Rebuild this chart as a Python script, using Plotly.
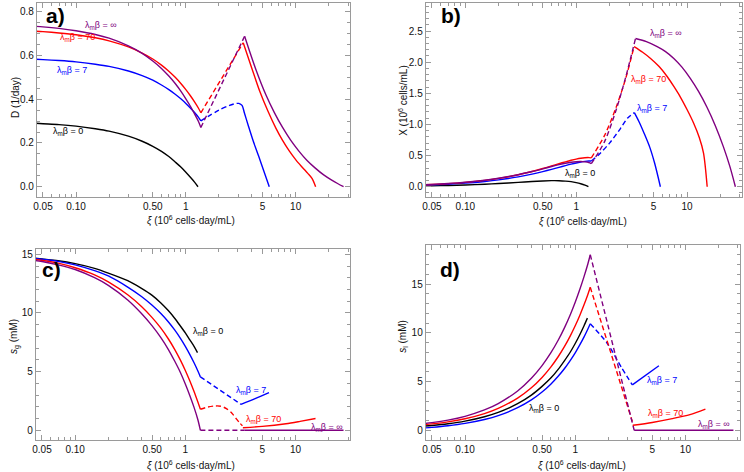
import plotly.graph_objects as go

# ---------------- data ----------------
xi_left = [0.04, 0.05, 0.07, 0.1, 0.15, 0.2, 0.3, 0.4, 0.5, 0.6, 0.7, 0.8, 0.9, 1.0, 1.1, 1.2, 1.3, 1.37]
xi_black = [0.04, 0.05, 0.07, 0.1, 0.15, 0.2, 0.3, 0.4, 0.5, 0.6, 0.7, 0.8, 0.9, 1.0, 1.1, 1.2, 1.29]

# panel a: D (1/day)
D_black = [0.291, 0.288, 0.284, 0.277, 0.265, 0.254, 0.231, 0.208, 0.185, 0.162, 0.138, 0.113, 0.090, 0.066, 0.043, 0.021, 0.0]
D_blue = [0.584, 0.581, 0.577, 0.571, 0.560, 0.550, 0.529, 0.508, 0.487, 0.465, 0.444, 0.423, 0.402, 0.381, 0.360, 0.339, 0.318, 0.301]
D_red = [0.712, 0.709, 0.703, 0.695, 0.681, 0.667, 0.639, 0.611, 0.584, 0.556, 0.528, 0.500, 0.472, 0.444, 0.416, 0.388, 0.360, 0.338]
D_purple = [0.734, 0.731, 0.724, 0.713, 0.696, 0.679, 0.644, 0.610, 0.575, 0.541, 0.506, 0.472, 0.437, 0.402, 0.368, 0.333, 0.299, 0.271]
xi_blue_mid_a = [1.37, 1.6, 2.0, 2.5, 2.9, 3.05]
D_blue_mid = [0.301, 0.322, 0.35, 0.372, 0.381, 0.381]
xi_red_mid_a = [1.37, 3.33]
D_red_mid = [0.338, 0.658]
xi_purple_mid_a = [1.37, 3.43]
D_purple_mid = [0.271, 0.688]
xi_blue_right_a = [3.05, 3.25, 3.41, 3.7, 4.1, 4.6, 5.1, 5.75]
D_blue_right = [0.381, 0.372, 0.338, 0.28, 0.21, 0.14, 0.075, 0.0]
xi_red_right = [3.33, 3.98, 4.69, 5.6, 6.62, 7.6, 8.71, 10.0, 11.48, 12.9, 14.09, 15.2]
D_red_right = [0.658, 0.543, 0.439, 0.345, 0.267, 0.212, 0.165, 0.124, 0.089, 0.061, 0.038, 0.0]
xi_purple_right = [3.43, 4.3, 5.38, 6.4, 7.6, 9.0, 10.7, 12.7, 15.1, 18.0, 21.3, 24.3, 27.3]
D_purple_right = [0.688, 0.542, 0.418, 0.339, 0.271, 0.213, 0.163, 0.120, 0.085, 0.054, 0.030, 0.0136, 0.0]

# panel b: X (10^6 cells/mL)
X_black = [0.0116, 0.0144, 0.0199, 0.0277, 0.0398, 0.0508, 0.0693, 0.0832, 0.0925, 0.0972, 0.0966, 0.0904, 0.081, 0.066, 0.0473, 0.0252, 0.0]
X_blue = [0.0234, 0.029, 0.0404, 0.0571, 0.084, 0.110, 0.1587, 0.2032, 0.2435, 0.279, 0.3108, 0.3384, 0.3618, 0.381, 0.396, 0.4068, 0.4134, 0.412]
X_red = [0.0285, 0.0355, 0.0492, 0.0695, 0.1022, 0.1334, 0.1917, 0.2444, 0.292, 0.3336, 0.3696, 0.400, 0.4248, 0.444, 0.4576, 0.4656, 0.468, 0.463]
X_purple = [0.0294, 0.0366, 0.0507, 0.0713, 0.1044, 0.1358, 0.1932, 0.244, 0.2875, 0.3246, 0.3542, 0.3776, 0.3933, 0.402, 0.4048, 0.3996, 0.3887, 0.371]
xi_blue_mid_b = [1.37, 1.6, 2.0, 2.5, 2.9, 3.35]
X_blue_mid = [0.412, 0.515, 0.70, 0.93, 1.10, 1.19]
xi_red_mid_b = [1.37, 1.8, 2.3, 2.8, 3.33]
X_red_mid = [0.463, 0.82, 1.28, 1.74, 2.25]
xi_purple_mid_b = [1.37, 1.8, 2.3, 2.8, 3.43]
X_purple_mid = [0.371, 0.72, 1.24, 1.76, 2.38]
xi_blue_right_b = [3.35, 3.7, 4.1, 4.6, 5.1, 5.75]
X_blue_right = [1.19, 1.04, 0.86, 0.64, 0.38, 0.0]
X_red_right = [2.25, 2.16, 2.06, 1.93, 1.77, 1.61, 1.44, 1.24, 1.02, 0.79, 0.54, 0.0]
X_purple_right = [2.38, 2.33, 2.25, 2.17, 2.06, 1.92, 1.74, 1.53, 1.28, 0.98, 0.64, 0.33, 0.0]

# panel c: s_g (mM)
Sg_black = [14.7, 14.6, 14.45, 14.2, 13.8, 13.4, 12.75, 12.1, 11.5, 10.85, 10.2, 9.55, 8.9, 8.3, 7.7, 7.15, 6.62]
Sg_blue = [14.68, 14.58, 14.4, 14.1, 13.6, 13.15, 12.2, 11.4, 10.65, 9.95, 9.25, 8.55, 7.85, 7.15, 6.45, 5.75, 5.05, 4.55]
Sg_red = [14.6, 14.48, 14.25, 13.85, 13.25, 12.65, 11.55, 10.55, 9.6, 8.7, 7.8, 6.9, 6.0, 5.1, 4.2, 3.3, 2.4, 1.79]
Sg_purple = [14.52, 14.38, 14.1, 13.7, 13.0, 12.35, 11.1, 9.95, 8.9, 7.9, 6.9, 5.9, 4.95, 3.95, 2.95, 1.95, 0.9, 0.0]
xi_blue_mid_c = [1.37, 3.2]
Sg_blue_mid = [4.55, 2.21]
xi_blue_right_c = [3.2, 4.3, 5.75]
Sg_blue_right = [2.21, 2.7, 3.21]
xi_red_mid_c = [1.37, 1.6, 1.85, 2.1, 2.36, 2.65, 2.9, 3.1, 3.3]
Sg_red_mid = [1.79, 1.98, 2.07, 2.05, 1.85, 1.45, 0.98, 0.65, 0.38]
xi_red_right_c = [3.33, 5.0, 8.2, 11.0, 15.2]
Sg_red_right = [0.22, 0.33, 0.56, 0.76, 1.0]
xi_purple_mid_c = [1.37, 3.43]
Sg_purple_mid = [0.0, 0.0]
xi_purple_right_c = [3.43, 27.3]
Sg_purple_right = [0.0, 0.0]

# panel d: s_l (mM)
Sl_black = [0.4, 0.49, 0.67, 0.94, 1.39, 1.83, 2.72, 3.6, 4.5, 5.35, 6.25, 7.15, 8.0, 8.9, 9.8, 10.7, 11.5]
Sl_blue = [0.22, 0.3, 0.46, 0.7, 1.1, 1.5, 2.31, 3.11, 3.92, 4.72, 5.53, 6.33, 7.14, 7.94, 8.75, 9.55, 10.36, 10.92]
Sl_red = [0.54, 0.65, 0.86, 1.18, 1.71, 2.24, 3.3, 4.36, 5.42, 6.48, 7.54, 8.6, 9.66, 10.72, 11.78, 12.84, 13.9, 14.66]
Sl_purple = [0.65, 0.78, 1.04, 1.43, 2.08, 2.73, 4.03, 5.33, 6.63, 7.93, 9.23, 10.53, 11.83, 13.13, 14.43, 15.73, 17.03, 18.0]
xi_blue_mid_d = [1.37, 1.93, 2.63, 3.3]
Sl_blue_mid = [10.92, 9.0, 6.44, 4.66]
xi_blue_right_d = [3.3, 5.75]
Sl_blue_right = [4.66, 6.61]
xi_red_mid_d = [1.37, 3.3]
Sl_red_mid = [14.66, 0.9]
xi_red_right_d = [3.33, 5.0, 7.6, 11.0, 15.2]
Sl_red_right = [0.51, 0.8, 1.19, 1.6, 2.16]
xi_purple_mid_d = [1.37, 3.43]
Sl_purple_mid = [18.0, 0.0]
xi_purple_right_d = [3.43, 27.3]
Sl_purple_right = [0.0, 0.0]

x_tickvals = [0.05, 0.1, 0.5, 1, 5, 10]
x_ticktext = ["0.05", "0.10", "0.50", "1", "5", "10"]
x_minor = [0.06, 0.07, 0.08, 0.09, 0.2, 0.3, 0.4, 0.6, 0.7, 0.8, 0.9, 2, 3, 4, 6, 7, 8, 9, 20, 30]

# ---------------- styling ----------------
BLACK, BLUE, RED, PURPLE = "#000000", "#0000ff", "#ff0000", "#800080"
W, H = 744, 472
LW = 1.4
DASH = "5px,3px"
FONT = "Liberation Sans, Arial, sans-serif"

fig = go.Figure()


def add(xs, ys, color, axis, dashed=False, smooth=True):
    fig.add_trace(go.Scatter(
        x=xs, y=ys, mode="lines", xaxis="x" + axis, yaxis="y" + axis,
        line=dict(color=color, width=LW, dash=DASH if dashed else "solid",
                  shape="spline" if smooth else "linear", smoothing=0.8),
        hoverinfo="skip", showlegend=False))


# panel a
add(xi_black, D_black, BLACK, "")
add(xi_left, D_blue, BLUE, "")
add(xi_left, D_red, RED, "")
add(xi_left, D_purple, PURPLE, "")
add(xi_blue_mid_a, D_blue_mid, BLUE, "", True)
add(xi_red_mid_a, D_red_mid, RED, "", True, False)
add(xi_purple_mid_a, D_purple_mid, PURPLE, "", True, False)
add(xi_blue_right_a, D_blue_right, BLUE, "")
add(xi_red_right, D_red_right, RED, "")
add(xi_purple_right, D_purple_right, PURPLE, "")

# panel b
add(xi_black, X_black, BLACK, "2")
add(xi_left, X_blue, BLUE, "2")
add(xi_left, X_red, RED, "2")
add(xi_left, X_purple, PURPLE, "2")
add(xi_blue_mid_b, X_blue_mid, BLUE, "2", True)
add(xi_red_mid_b, X_red_mid, RED, "2", True)
add(xi_purple_mid_b, X_purple_mid, PURPLE, "2", True)
add(xi_blue_right_b, X_blue_right, BLUE, "2")
add(xi_red_right, X_red_right, RED, "2")
add(xi_purple_right, X_purple_right, PURPLE, "2")

# panel c
add(xi_black, Sg_black, BLACK, "3")
add(xi_left, Sg_blue, BLUE, "3")
add(xi_left, Sg_red, RED, "3")
add(xi_left, Sg_purple, PURPLE, "3")
add(xi_blue_mid_c, Sg_blue_mid, BLUE, "3", True, False)
add(xi_red_mid_c, Sg_red_mid, RED, "3", True)
add(xi_purple_mid_c, Sg_purple_mid, PURPLE, "3", True, False)
add(xi_blue_right_c, Sg_blue_right, BLUE, "3")
add(xi_red_right_c, Sg_red_right, RED, "3")
add(xi_purple_right_c, Sg_purple_right, PURPLE, "3", False, False)

# panel d
add(xi_black, Sl_black, BLACK, "4")
add(xi_left, Sl_blue, BLUE, "4")
add(xi_left, Sl_red, RED, "4")
add(xi_left, Sl_purple, PURPLE, "4")
add(xi_blue_mid_d, Sl_blue_mid, BLUE, "4", True)
add(xi_red_mid_d, Sl_red_mid, RED, "4", True, False)
add(xi_purple_mid_d, Sl_purple_mid, PURPLE, "4", True, False)
add(xi_blue_right_d, Sl_blue_right, BLUE, "4", False, False)
add(xi_red_right_d, Sl_red_right, RED, "4")
add(xi_purple_right_d, Sl_purple_right, PURPLE, "4", False, False)


def px2x(px):
    return px / W


def py2y(py):
    return 1 - py / H


common = dict(showline=True, mirror="ticks", linecolor="#9a9a9a", linewidth=1,
              ticks="inside", ticklen=5, tickcolor="#9a9a9a", tickwidth=1,
              showgrid=False, zeroline=False,
              tickfont=dict(family=FONT, size=10, color="#111"))


def xaxis(domain, anchor):
    return dict(common, type="log", range=[-1.357, 1.496], domain=domain, anchor=anchor,
                tickmode="array", tickvals=x_tickvals, ticktext=x_ticktext,
                minor=dict(tickmode="array", tickvals=x_minor, ticks="inside",
                           ticklen=3, tickcolor="#9a9a9a"))


def yaxis(domain, anchor, rng, dtick, minor_dtick, fmt):
    return dict(common, range=rng, domain=domain, anchor=anchor, dtick=dtick, tick0=0,
                tickformat=fmt,
                minor=dict(dtick=minor_dtick, tick0=0, ticks="inside", ticklen=3,
                           tickcolor="#9a9a9a"))


dom_a_x = [px2x(33), px2x(348)]
dom_b_x = [px2x(424), px2x(742)]
dom_c_x = [px2x(32), px2x(348)]
dom_d_x = [px2x(424), px2x(740)]
dom_top_y = [py2y(197), py2y(3)]
dom_c_y = [py2y(440), py2y(249)]
dom_d_y = [py2y(440), py2y(245)]

fig.update_layout(
    width=W, height=H, margin=dict(l=0, r=0, t=0, b=0),
    paper_bgcolor="white", plot_bgcolor="white",
    xaxis=xaxis(dom_a_x, "y"),
    yaxis=yaxis(dom_top_y, "x", [-0.047, 0.84], 0.2, 0.05, ".1f"),
    xaxis2=xaxis(dom_b_x, "y2"),
    yaxis2=yaxis(dom_top_y, "x2", [-0.165, 2.95], 0.5, 0.1, ".1f"),
    xaxis3=xaxis(dom_c_x, "y3"),
    yaxis3=yaxis(dom_c_y, "x3", [-0.83, 15.45], 5, 1, "d"),
    xaxis4=xaxis(dom_d_x, "y4"),
    yaxis4=yaxis(dom_d_y, "x4", [-1.0, 19.0], 5, 1, "d"),
)

ann = []


def text(px, py, s, color="#000", size=10, angle=0):
    ann.append(dict(x=px2x(px), y=py2y(py), xref="paper", yref="paper", text=s,
                    showarrow=False, textangle=angle, xanchor="center", yanchor="middle",
                    font=dict(family=FONT, size=size, color=color)))


LAB = "λ<sub>m</sub>β = "
# curve labels
text(98, 26, LAB + "∞", PURPLE, 9)
text(74, 37, LAB + "70", RED, 9)
text(68, 70, LAB + "7", BLUE, 9)
text(64, 132, LAB + "0", BLACK, 9)

text(666, 33, LAB + "∞", PURPLE, 9)
text(648, 79, LAB + "70", RED, 9)
text(652, 109, LAB + "7", BLUE, 9)
text(579, 173, LAB + "0", BLACK, 9)

text(205, 331, LAB + "0", BLACK, 9)
text(248, 390, LAB + "7", BLUE, 9)
text(261, 419, LAB + "70", RED, 9)
text(325, 427, LAB + "∞", PURPLE, 9)

text(543, 408, LAB + "0", BLACK, 9)
text(662, 380, LAB + "7", BLUE, 9)
text(665, 413, LAB + "70", RED, 9)
text(714, 424, LAB + "∞", PURPLE, 9)

# panel letters
text(52, 15, "<b>a)</b>", "#000", 21)
text(449, 15, "<b>b)</b>", "#000", 21)
text(48, 269, "<b>c)</b>", "#000", 21)
text(448, 269, "<b>d)</b>", "#000", 21)

# axis titles
XT = "<i>ξ</i> (10<sup>6</sup> cells·day/mL)"
text(188, 220, XT, "#111", 10)
text(582, 221, XT, "#111", 10)
text(188, 465, XT, "#111", 10)
text(581, 465, XT, "#111", 10)
text(11, 97, "D (1/day)", "#111", 10, -90)
text(401, 100, "X (10<sup>6</sup> cells/mL)", "#111", 10, -90)
text(10, 336, "<i>s</i><sub>g</sub> (mM)", "#111", 10, -90)
text(401, 336, "<i>s</i><sub>l</sub> (mM)", "#111", 10, -90)

fig.update_layout(annotations=ann)

fig.write_html("out.html", config={"displayModeBar": False},
               post_script="document.body.style.margin='0';document.body.style.overflow='hidden';")
